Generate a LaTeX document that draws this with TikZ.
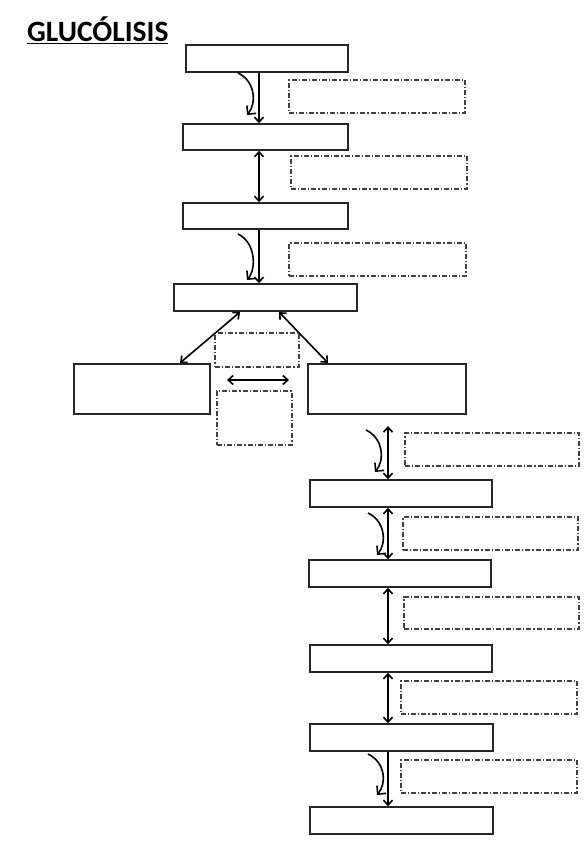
\documentclass[tikz,border=0pt]{standalone}
\usepackage{fontspec}
\setmainfont{Carlito}
\usetikzlibrary{arrows.meta}
\begin{document}
\begin{tikzpicture}[x=1pt,y=-1pt,
  box/.style={draw=black!85,line width=1.4pt,fill=white,inner sep=0pt},
  dbox/.style={draw=black!75,line width=1.2pt,inner sep=0pt,dash pattern=on 5pt off 2pt on 1.2pt off 2pt},
  arr/.style={line width=1.6pt,-{Straight Barb[length=5pt,width=9pt]}},
  darr/.style={line width=1.6pt,{Straight Barb[length=5pt,width=9pt]}-{Straight Barb[length=5pt,width=9pt]}},
  carr/.style={line width=1.6pt,-{Straight Barb[length=6pt,width=12pt]}}]
\useasboundingbox[fill=white] (0,0) rectangle (587,848);
\node[anchor=base west,font=\bfseries\fontsize{29.5}{32}\selectfont,inner sep=0pt] (title) at (27,42) {\underline{GLUCÓLISIS}};
% solid boxes
\node[box,minimum width=162pt,minimum height=27pt] (b1) at (267,58.5) {};
\node[box,minimum width=165pt,minimum height=26pt] (b2) at (265.5,137) {};
\node[box,minimum width=165pt,minimum height=26pt] (b3) at (265.5,216) {};
\node[box,minimum width=183pt,minimum height=27pt] (b4) at (265.5,297.5) {};
\node[box,minimum width=136pt,minimum height=50pt] (b5) at (142,389) {};
\node[box,minimum width=158pt,minimum height=50pt] (b6) at (387,389) {};
\node[box,minimum width=182pt,minimum height=27pt] (b7) at (401,493.5) {};
\node[box,minimum width=182pt,minimum height=27pt] (b8) at (400,573.5) {};
\node[box,minimum width=182pt,minimum height=27pt] (b9) at (401,658.5) {};
\node[box,minimum width=183pt,minimum height=27pt] (b10) at (401.5,737.5) {};
\node[box,minimum width=183pt,minimum height=27pt] (b11) at (401.5,820.5) {};
% dash-dot boxes
\node[dbox,minimum width=176pt,minimum height=33pt] (d1) at (377,96.5) {};
\node[dbox,minimum width=176pt,minimum height=33pt] (d2) at (379,172.5) {};
\node[dbox,minimum width=177pt,minimum height=33pt] (d3) at (377.5,259.5) {};
\node[dbox,minimum width=84pt,minimum height=34pt] (d4) at (257,350) {};
\node[dbox,minimum width=75pt,minimum height=54pt] (d5) at (254.5,418) {};
\node[dbox,minimum width=174pt,minimum height=33pt] (d6) at (492,449.5) {};
\node[dbox,minimum width=175pt,minimum height=33pt] (d7) at (490.5,533.5) {};
\node[dbox,minimum width=175pt,minimum height=32pt] (d8) at (491.5,613) {};
\node[dbox,minimum width=176pt,minimum height=33pt] (d9) at (489,697.5) {};
\node[dbox,minimum width=176pt,minimum height=33pt] (d10) at (489,776.5) {};
% column coordinates
\coordinate (c1) at (259,0);
\coordinate (c2) at (388,0);
% straight connectors
\draw[arr] (b1.south -| c1) -- (b2.north -| c1);
\draw[darr] (b2.south -| c1) -- (b3.north -| c1);
\draw[arr] (b3.south -| c1) -- (b4.north -| c1);
\coordinate (p45) at (240,312);
\coordinate (q45) at (180,363);
\coordinate (p46) at (279,312);
\coordinate (q46) at (328,363);
\draw[darr] (p45) -- (q45);
\draw[darr] (p46) -- (q46);
\coordinate (h1) at (227,380);
\coordinate (h2) at (289,380);
\draw[darr] (h1) -- (h2);
\coordinate (t67) at (388,426);
\draw[darr] (t67) -- (b7.north -| c2);
\draw[darr] (b7.south -| c2) -- (b8.north -| c2);
\draw[darr] (b8.south -| c2) -- (b9.north -| c2);
\draw[darr] (b9.south -| c2) -- (b10.north -| c2);
\draw[arr] (b10.south -| c2) -- (b11.north -| c2);
% curved arrows
\coordinate (s1) at (238,73);  \coordinate (e1) at (247,115);
\coordinate (s3) at (238,234); \coordinate (e3) at (247,280);
\coordinate (s6) at (366,430); \coordinate (e6) at (375,472);
\coordinate (s7) at (368,513); \coordinate (e7) at (377,555);
\coordinate (s10) at (368,754); \coordinate (e10) at (377,795);
\foreach \i in {1,3,6,7,10}{
  \draw[carr] (s\i) .. controls +(17,8) and +(10,-12) .. (e\i);
}
\end{tikzpicture}
\end{document}
